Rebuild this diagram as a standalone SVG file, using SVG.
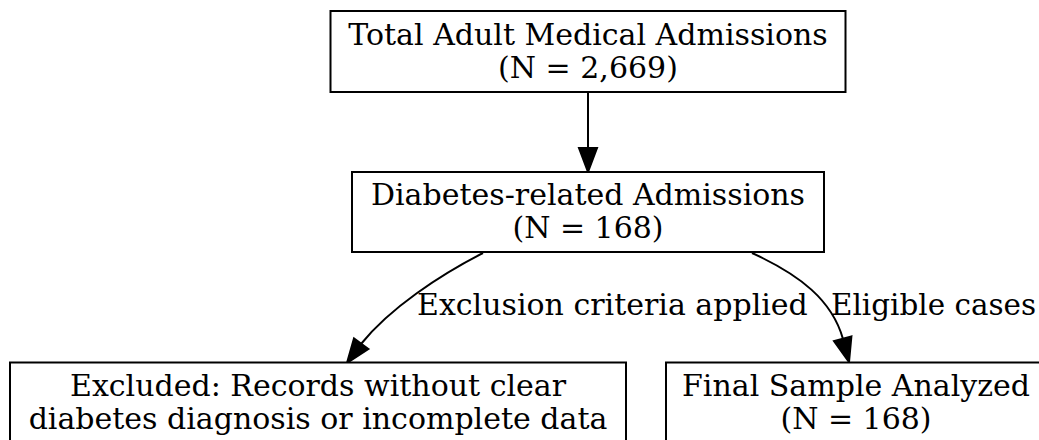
<svg xmlns="http://www.w3.org/2000/svg" width="1039" height="440" viewBox="0 0 1039 440">
<style>
.box{fill:#fff;stroke:#000;stroke-width:2}
.t{font-family:"DejaVu Serif",serif;font-size:30px;fill:#000;text-anchor:middle}
.l{font-family:"DejaVu Serif",serif;font-size:30px;fill:#000}
.edge{fill:none;stroke:#000;stroke-width:2}
.head{fill:#000;stroke:#000;stroke-width:2}
</style>
<rect width="1039" height="440" fill="#fff"/>
<g id="connectors">
<line class="edge" x1="588" y1="92" x2="588" y2="148"/>
<polygon class="head" points="579,148 597,148 588,172"/>
<path class="edge" d="M483,253 C440,275 390,308 361,344"/>
<polygon class="head" points="368.4,349 354,338.4 347,363"/>
<path class="edge" d="M752,253 C800,275 832,300 843,339"/>
<polygon class="head" points="851.4,336.4 834,341.2 849,362"/>
<text class="l" x="417" y="315">Exclusion criteria applied</text>
<text class="l" x="831" y="315" textLength="205" lengthAdjust="spacingAndGlyphs">Eligible cases</text>
</g>
<g id="total">
<rect class="box" x="330.5" y="11" width="515" height="81"/>
<text class="t" x="588" y="45">Total Adult Medical Admissions</text>
<text class="t" x="588" y="78">(N = 2,669)</text>
</g>
<g id="diabetes">
<rect class="box" x="352" y="172" width="472" height="80"/>
<text class="t" x="588" y="205">Diabetes-related Admissions</text>
<text class="t" x="588" y="238">(N = 168)</text>
</g>
<g id="excluded">
<rect class="box" x="10" y="362.5" width="616" height="100"/>
<text class="t" x="318" y="396">Excluded: Records without clear</text>
<text class="t" x="318" y="429">diabetes diagnosis or incomplete data</text>
</g>
<g id="final">
<rect class="box" x="666" y="362.5" width="380" height="100"/>
<text class="t" x="856" y="396">Final Sample Analyzed</text>
<text class="t" x="856" y="429">(N = 168)</text>
</g>
</svg>
